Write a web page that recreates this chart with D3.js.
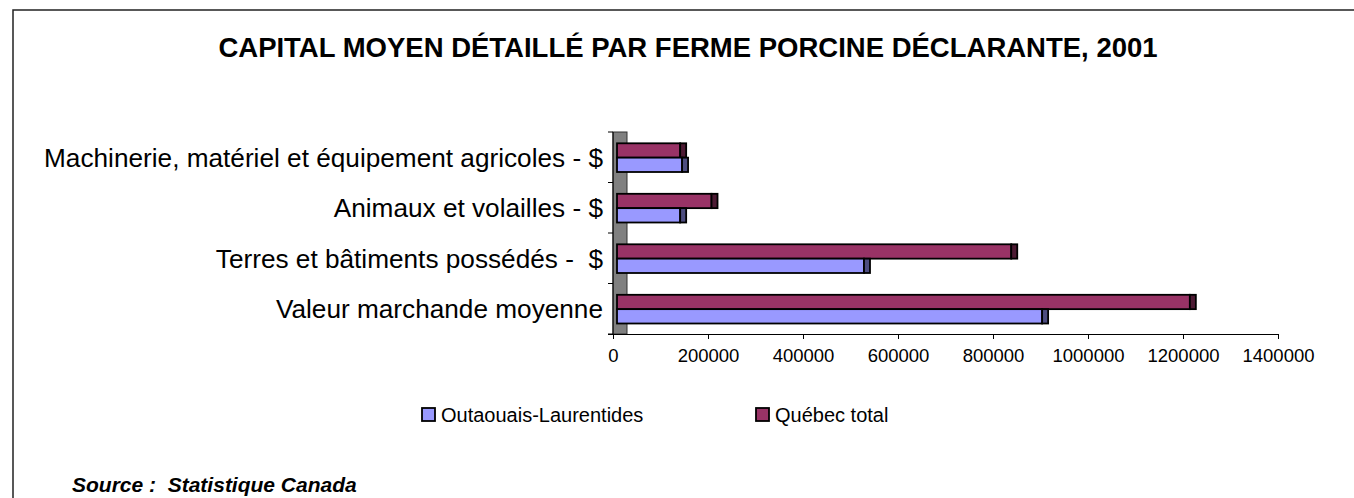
<!DOCTYPE html>
<html>
<head>
<meta charset="utf-8">
<script src="https://cdn.jsdelivr.net/npm/d3@7"></script>
<style>
  body { margin: 0; background: #fff; }
  svg text { font-family: "Liberation Sans", Arial, sans-serif; fill: #000; }
</style>
</head>
<body>
<svg id="chart" width="1354" height="498"></svg>
<script>
var categories = ["Machinerie, matériel et équipement agricoles - $", "Animaux et volailles - $", "Terres et bâtiments possédés -  $", "Valeur marchande moyenne"];
var seriesNames = ["Outaouais-Laurentides", "Québec total"];
var outaouais = [137000, 133000, 520000, 895000];
var quebec = [133000, 199000, 830000, 1206000];
var xTicks = [0, 200000, 400000, 600000, 800000, 1000000, 1200000, 1400000];

var colors = { "Outaouais-Laurentides": "#9999ff", "Québec total": "#993366" };
var sideColors = { "Outaouais-Laurentides": "#4d4d80", "Québec total": "#4d1a33" };

var svg = d3.select('#chart');

// frame
svg.append("rect")
  .attr("x", 13).attr("y", 10)
  .attr("width", 1400).attr("height", 600)
  .attr("fill", "none").attr("stroke", "#222").attr("stroke-width", 1.5);

svg.append("text")
  .attr("x", 688).attr("y", 57)
  .attr("text-anchor", "middle")
  .style("font-size", "27.5px").style("font-weight", "bold")
  .text("CAPITAL MOYEN DÉTAILLÉ PAR FERME PORCINE DÉCLARANTE, 2001");

var x = d3.scaleLinear().domain([0, 1400000]).range([613, 1278]);
var y = d3.scaleBand().domain(categories).range([132, 334]);
// Québec drawn on top, Outaouais below in each band
var ys = d3.scaleBand().domain(["Québec total", "Outaouais-Laurentides"]).range([11.3, 40]);

// side wall (3D)
svg.append("rect")
  .attr("x", x(0)).attr("y", 132)
  .attr("width", 14).attr("height", 334 - 132)
  .attr("fill", "#808080").attr("stroke", "#333").attr("stroke-width", 1);

// x axis
var xAxis = d3.axisBottom(x).tickValues(xTicks).tickSize(5).tickFormat(d3.format("d"));
var gx = svg.append("g").attr("transform", "translate(0,334)").call(xAxis);
gx.select(".domain").attr("d", "M608,0.5H1278");
gx.selectAll("line, path").attr("stroke", "#000");
gx.selectAll("text").style("font-size", "18.5px").attr("dy", "1.1em");

// y axis
var gy = svg.append("g").attr("transform", "translate(613,0)");
gy.append("line").attr("x1", 0).attr("x2", 0).attr("y1", 132).attr("y2", 334).attr("stroke", "#000");
gy.selectAll(".tk").data(categories.concat(["end"])).enter().append("line")
  .attr("x1", -5).attr("x2", 0)
  .attr("y1", function (d, i) { return 132 + i * y.step(); })
  .attr("y2", function (d, i) { return 132 + i * y.step(); })
  .attr("stroke", "#000");

svg.selectAll(".cat").data(categories).enter().append("text")
  .attr("x", 603)
  .attr("y", function (d) { return y(d) + y.bandwidth() / 2; })
  .attr("dy", "0.36em")
  .attr("text-anchor", "end")
  .style("font-size", "26.2px")
  .style("white-space", "pre")
  .text(function (d) { return d; });

// bars
var rows = [];
categories.forEach(function (c, i) {
  rows.push({ cat: c, s: "Québec total", v: quebec[i] });
  rows.push({ cat: c, s: "Outaouais-Laurentides", v: outaouais[i] });
});

var bars = svg.selectAll(".bar").data(rows).enter().append("g");
bars.append("rect")
  .attr("x", x(0) + 4)
  .attr("y", function (d) { return y(d.cat) + ys(d.s); })
  .attr("width", function (d) { return x(d.v) - x(0); })
  .attr("height", ys.bandwidth())
  .attr("fill", function (d) { return colors[d.s]; })
  .attr("stroke", "#000").attr("stroke-width", 1.8);
bars.append("rect")
  .attr("x", function (d) { return x(d.v) + 4; })
  .attr("y", function (d) { return y(d.cat) + ys(d.s); })
  .attr("width", 6)
  .attr("height", ys.bandwidth())
  .attr("fill", function (d) { return sideColors[d.s]; })
  .attr("stroke", "#000").attr("stroke-width", 1.8);

// legend
var legX = [422, 756];
var leg = svg.selectAll(".leg").data(seriesNames).enter().append("g")
  .attr("transform", function (d, i) { return "translate(" + legX[i] + ",408)"; });
leg.append("rect").attr("width", 13).attr("height", 13)
  .attr("fill", function (d) { return colors[d]; })
  .attr("stroke", "#000").attr("stroke-width", 1.8);
leg.append("text").attr("x", 19).attr("y", 7).attr("dy", "0.36em")
  .style("font-size", "20px")
  .text(function (d) { return d; });

svg.append("text")
  .attr("x", 72).attr("y", 492)
  .style("font-size", "21px").style("font-weight", "bold").style("font-style", "italic")
  .style("white-space", "pre")
  .text("Source :  Statistique Canada");
</script>
</body>
</html>
